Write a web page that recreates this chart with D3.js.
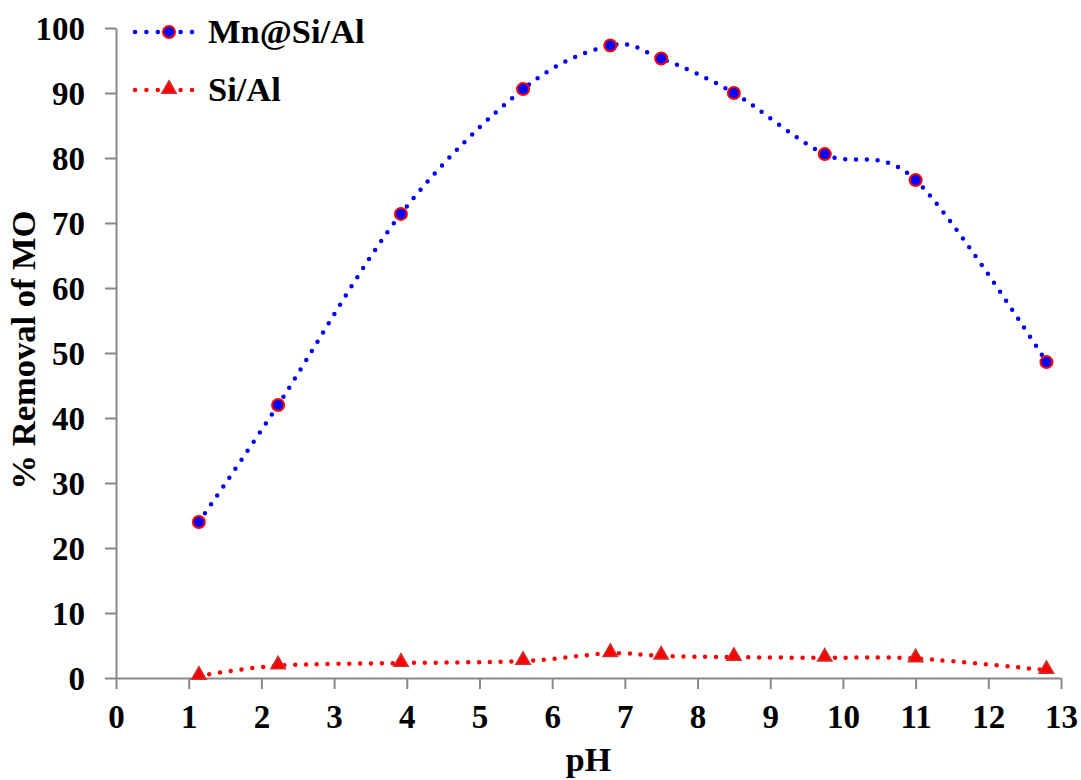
<!DOCTYPE html>
<html lang="en">
<head>
	<script src="https://cdnjs.cloudflare.com/ajax/libs/d3/7.8.5/d3.min.js"></script>
	<style>
		body{ margin: 0; background: #fff; }
	</style>
</head>
<body>
<svg id="chart" width="1081" height="780"></svg>

<script>
	// pH values and % removal
	const phValues = [1.14, 2.23, 3.92, 5.6, 6.8, 7.5, 8.5, 9.75, 11.0, 12.8];
	const mnSiAl = [24.0, 42.0, 71.4, 90.6, 97.3, 95.3, 90.0, 80.6, 76.6, 48.6];
	const siAl = [0.3, 1.9, 2.3, 2.6, 3.8, 3.4, 3.2, 3.1, 3.0, 1.2];
	const xTicks = d3.range(0, 14);
	const yTicks = d3.range(0, 101, 10);
	const seriesNames = ["Mn@Si/Al", "Si/Al"];

	const plotLeft = 116, plotTop = 28, plotRight = 1061, plotBottom = 678;
	const axisColor = "#888";
	const serif = '"Liberation Serif", "Times New Roman", serif';

	const svg = d3.select("#chart");

	const x = d3.scaleLinear().domain([0, 13]).range([plotLeft, plotRight]);
	const y = d3.scaleLinear().domain([0, 100]).range([plotBottom, plotTop]);

	// axes
	const xAxis = svg.append("g")
			.attr("transform", `translate(0,${plotBottom})`)
			.call(d3.axisBottom(x).tickValues(xTicks).tickSize(11).tickSizeOuter(0).tickPadding(16));
	const yAxis = svg.append("g")
			.attr("transform", `translate(${plotLeft},0)`)
			.call(d3.axisLeft(y).tickValues(yTicks).tickSize(11).tickSizeOuter(0).tickPadding(20));

	[xAxis, yAxis].forEach(g => {
		g.select(".domain").attr("stroke", axisColor).attr("stroke-width", 2);
		g.selectAll(".tick line").attr("stroke", axisColor).attr("stroke-width", 2);
		g.selectAll(".tick text")
				.attr("font-size", 33)
				.attr("fill", "#000");
	});
	yAxis.selectAll(".tick text").attr("dy", "0.34em");

	// axis titles
	svg.append("text")
			.attr("x", (plotLeft + plotRight) / 2)
			.attr("y", 771)
			.attr("text-anchor", "middle")
			.attr("font-size", 34)
			.text("pH");
	svg.append("text")
			.attr("transform", "translate(35,350) rotate(-90)")
			.attr("text-anchor", "middle")
			.attr("font-size", 34.5)
			.text("% Removal of MO");

	const line = d3.line()
			.x(d => x(d[0]))
			.y(d => y(d[1]))
			.curve(d3.curveCardinal.tension(0));

	const mnData = phValues.map((p, i) => [p, mnSiAl[i]]);
	const siData = phValues.map((p, i) => [p, siAl[i]]);

	const tri = d3.symbol().type(d3.symbolTriangle).size(90);

	// Si/Al series
	svg.append("path")
			.datum(siData)
			.attr("d", line)
			.attr("fill", "none")
			.attr("stroke", "#ff0000")
			.attr("stroke-width", 4.5)
			.attr("stroke-linecap", "round")
			.attr("stroke-dasharray", "0,10.8");
	svg.selectAll(".tri")
			.data(siData)
			.enter()
			.append("path")
			.attr("d", tri)
			.attr("transform", d => `translate(${x(d[0])},${y(d[1]) - 1})`)
			.attr("fill", "#ff0000")
			.attr("stroke", "#c83232")
			.attr("stroke-width", 1.5);

	// Mn@Si/Al series
	svg.append("path")
			.datum(mnData)
			.attr("d", line)
			.attr("fill", "none")
			.attr("stroke", "#0000ff")
			.attr("stroke-width", 4.5)
			.attr("stroke-linecap", "round")
			.attr("stroke-dasharray", "0,10.8");
	svg.selectAll(".dot")
			.data(mnData)
			.enter()
			.append("circle")
			.attr("cx", d => x(d[0]))
			.attr("cy", d => y(d[1]))
			.attr("r", 6)
			.attr("fill", "#0000ff")
			.attr("stroke", "#ff0000")
			.attr("stroke-width", 2);

	// legend
	const legendY = [32, 90];
	const colors = ["#0000ff", "#ff0000"];
	seriesNames.forEach((name, i) => {
		const g = svg.append("g").attr("transform", `translate(0,${legendY[i]})`);
		g.append("line")
				.attr("x1", 135).attr("x2", 193)
				.attr("stroke", colors[i])
				.attr("stroke-width", 4.5)
				.attr("stroke-linecap", "round")
				.attr("stroke-dasharray", "0,11.4");
		if (i === 0) {
			g.append("circle").attr("cx", 169).attr("r", 6)
					.attr("fill", "#0000ff").attr("stroke", "#ff0000").attr("stroke-width", 2);
		} else {
			g.append("path").attr("d", tri).attr("transform", "translate(169,-1)")
					.attr("fill", "#ff0000").attr("stroke", "#c83232").attr("stroke-width", 1.5);
		}
		g.append("text")
				.attr("x", 208)
				.attr("y", 11)
				.attr("font-size", 34.5)
				.text(name);
	});

	svg.selectAll("text")
			.style("font-family", serif)
			.style("font-weight", "bold")
			.attr("fill", "#000");
</script>
</body>
</html>
